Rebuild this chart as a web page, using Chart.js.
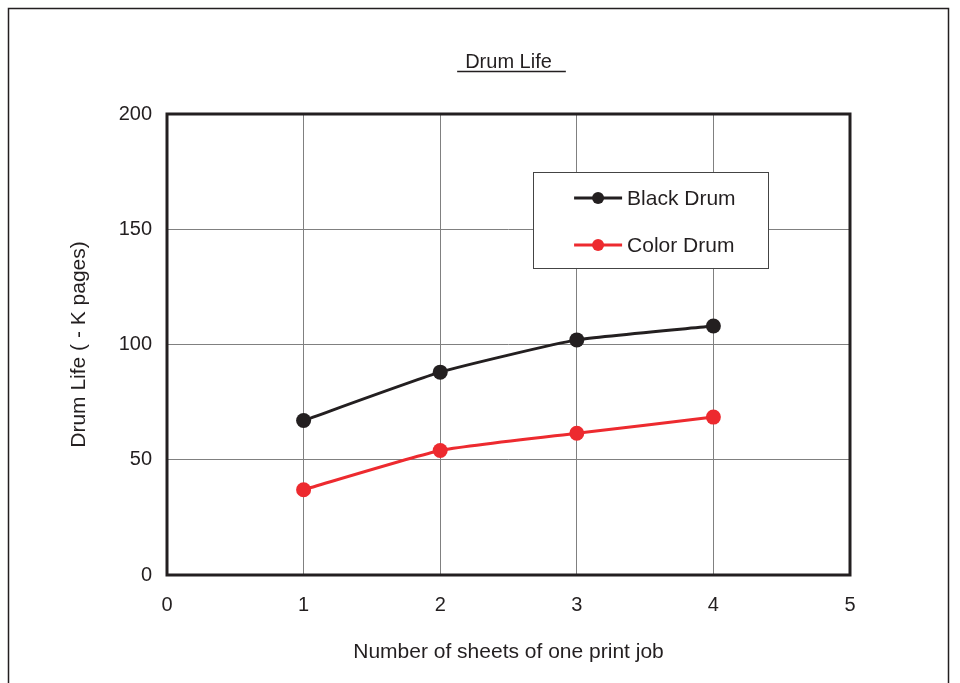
<!DOCTYPE html>
<html>
<head>
<meta charset="utf-8">
<script src="https://cdn.jsdelivr.net/npm/chart.js@4/dist/chart.umd.min.js"></script>
<style>
  html, body { margin:0; padding:0; background:#fff; }
  #wrap { width:960px; height:683px; position:relative; }
</style>
</head>
<body>
<div id="wrap"><canvas id="c" width="960" height="683"></canvas></div>
<script>
const chartTitle = "Drum Life";
const xTitle = "Number of sheets of one print job";
const yTitle = "Drum Life ( - K pages)";
const sheets = [1, 2, 3, 4];
const blackDrum = [67, 88, 102, 108];
const colorDrum = [37, 54, 61.5, 68.5];
const seriesNames = ["Black Drum", "Color Drum"];
const seriesColors = ["#231f20", "#ed2a2f"];

const INK = "#231f20";
const FONT = "'Liberation Sans', Arial, sans-serif";

const pts = (ys) => sheets.map((x, i) => ({ x, y: ys[i] }));

// page frame, plot border, title and the boxed legend
const decor = {
  id: "decor",
  beforeDraw(chart){
    const ctx = chart.ctx;
    ctx.save();
    ctx.strokeStyle = INK;
    ctx.lineWidth = 1.5;
    ctx.strokeRect(8.5, 8.5, 940, 700);
    ctx.restore();
  },
  afterDatasetsDraw(chart){
    const ctx = chart.ctx;
    const a = chart.chartArea;
    ctx.save();

    // plot border
    ctx.strokeStyle = INK;
    ctx.lineWidth = 3;
    ctx.strokeRect(a.left, a.top, a.right - a.left, a.bottom - a.top);

    // title, underlined
    ctx.fillStyle = INK;
    ctx.font = "20px " + FONT;
    ctx.textAlign = "center";
    ctx.textBaseline = "alphabetic";
    const cx = (a.left + a.right) / 2;
    ctx.fillText(chartTitle, cx, 68);
    const tw = ctx.measureText(chartTitle).width;
    ctx.lineWidth = 1.5;
    ctx.beginPath();
    ctx.moveTo(cx - tw / 2 - 8, 71.5);
    ctx.lineTo(cx + tw / 2 + 14, 71.5);
    ctx.stroke();

    // legend box
    const w = a.right - a.left, h = a.bottom - a.top;
    const bx = a.left + w * 0.536, by = a.top + h * 0.126;
    const bw = w * 0.344, bh = h * 0.208;
    ctx.fillStyle = "#fff";
    ctx.fillRect(bx, by, bw, bh);
    ctx.strokeStyle = "#444";
    ctx.lineWidth = 1;
    ctx.strokeRect(Math.round(bx) + 0.5, Math.round(by) + 0.5, Math.round(bw), Math.round(bh));

    ctx.font = "21px " + FONT;
    ctx.textAlign = "left";
    ctx.textBaseline = "middle";
    chart.data.datasets.forEach((ds, i) => {
      const ly = by + bh * (0.27 + i * 0.49);
      const lx = bx + 41;
      ctx.strokeStyle = ds.borderColor;
      ctx.lineWidth = 3;
      ctx.beginPath();
      ctx.moveTo(lx, ly);
      ctx.lineTo(lx + 48, ly);
      ctx.stroke();
      ctx.fillStyle = ds.backgroundColor;
      ctx.beginPath();
      ctx.arc(lx + 24, ly, 6, 0, Math.PI * 2);
      ctx.fill();
      ctx.fillStyle = INK;
      ctx.fillText(ds.label, lx + 53, ly + 1);
    });
    ctx.restore();
  }
};

new Chart(document.getElementById("c"), {
  type: "line",
  data: {
    datasets: [blackDrum, colorDrum].map((ys, i) => ({
      label: seriesNames[i],
      data: pts(ys),
      borderColor: seriesColors[i],
      backgroundColor: seriesColors[i],
      borderWidth: 3,
      pointRadius: 7.5,
      pointBorderWidth: 0,
      tension: 0.15
    }))
  },
  options: {
    responsive: false,
    animation: false,
    layout: { padding: { left: 0, top: 114, right: 110, bottom: 0 } },
    plugins: {
      legend: { display: false },
      title: { display: false },
      tooltip: { enabled: false }
    },
    scales: {
      x: {
        type: "linear",
        min: 0, max: 5,
        afterFit: (s) => { s.height = 108; },
        ticks: { stepSize: 1, color: INK, padding: 18, font: { family: FONT, size: 20 } },
        grid: { color: "#808080", lineWidth: 1, drawTicks: false },
        border: { display: false },
        title: { display: true, text: xTitle, color: INK, font: { family: FONT, size: 21 }, padding: { bottom: 18 } }
      },
      y: {
        min: 0, max: 200,
        afterFit: (s) => { s.width = 167; },
        ticks: { stepSize: 50, color: INK, padding: 15, font: { family: FONT, size: 20 } },
        grid: { color: "#808080", lineWidth: 1, drawTicks: false },
        border: { display: false },
        title: { display: true, text: yTitle, color: INK, font: { family: FONT, size: 21 }, padding: { top: 67 } }
      }
    }
  },
  plugins: [decor]
});
</script>
</body>
</html>
